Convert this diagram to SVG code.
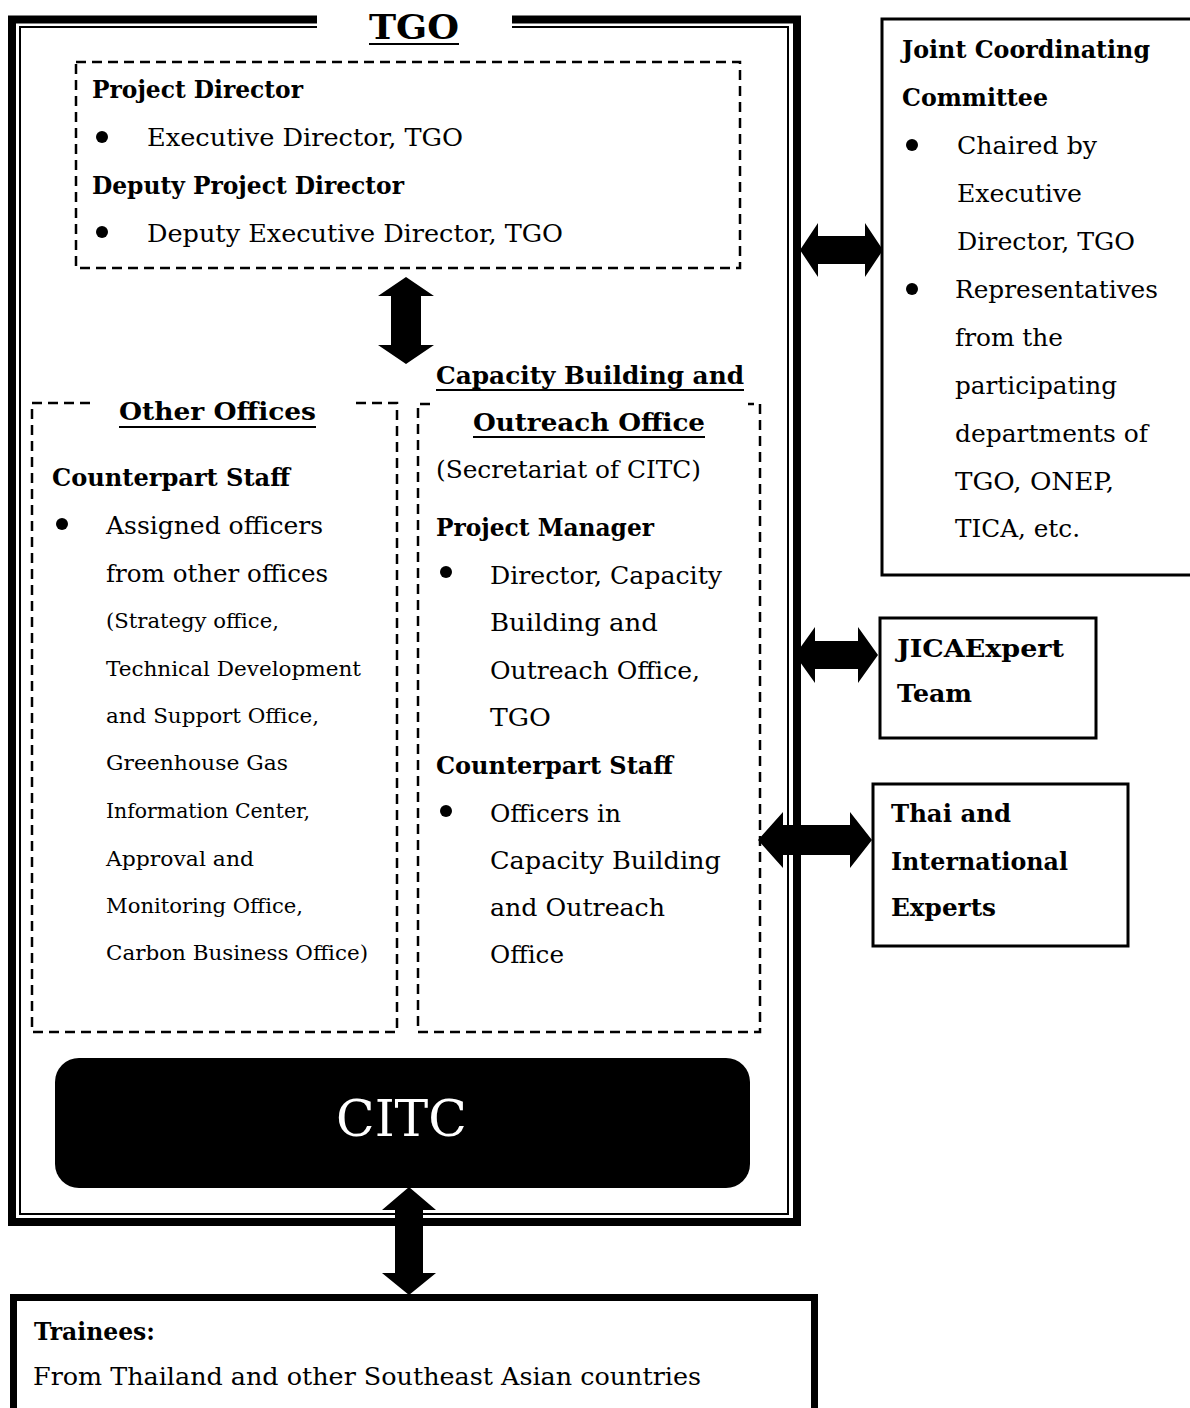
<svg xmlns="http://www.w3.org/2000/svg" width="1190" height="1408" viewBox="0 0 1190 1408">
<style>
text{font-family:"DejaVu Serif","Liberation Serif",serif;fill:#000}
.t{font-size:24px}
.b{font-size:24px;font-weight:bold}
.s{font-size:21px}
.h{font-size:34px;font-weight:bold}
.dash{fill:none;stroke:#000;stroke-width:2.5;stroke-dasharray:10 6}
.box{fill:#fff;stroke:#000;stroke-width:3}
.ul{stroke:#000;stroke-width:2}
.arrow{fill:#000}
</style>
<rect width="1190" height="1408" fill="#fff"/>

<g id="tgo-frame">
  <rect x="12" y="19.5" width="785" height="1202.5" fill="none" stroke="#000" stroke-width="8"/>
  <rect x="20" y="27" width="768" height="1187" fill="none" stroke="#000" stroke-width="2"/>
  <rect x="317" y="8" width="195" height="24" fill="#fff"/>
  <text class="h" x="369" y="39" textLength="90" lengthAdjust="spacingAndGlyphs">TGO</text>
  <line class="ul" x1="369" y1="44" x2="459" y2="44" stroke-width="2.5"/>
</g>

<g id="project-director">
  <rect class="dash" x="76" y="62" width="664" height="206"/>
  <text class="b" x="92" y="98" textLength="211" lengthAdjust="spacingAndGlyphs">Project Director</text>
  <circle cx="102" cy="137" r="6"/>
  <text class="t" x="147" y="146" textLength="316" lengthAdjust="spacingAndGlyphs">Executive Director, TGO</text>
  <text class="b" x="92" y="194" textLength="312" lengthAdjust="spacingAndGlyphs">Deputy Project Director</text>
  <circle cx="102" cy="232" r="6"/>
  <text class="t" x="147" y="242" textLength="416" lengthAdjust="spacingAndGlyphs">Deputy Executive Director, TGO</text>
</g>

<g id="other-offices">
  <path class="dash" d="M90 403 L32 403 L32 1032 L397 1032 L397 403 L355 403"/>
  <text class="b" x="119" y="420" textLength="197" lengthAdjust="spacingAndGlyphs">Other Offices</text>
  <line class="ul" x1="119" y1="427" x2="316" y2="427"/>
  <text class="b" x="52" y="486" textLength="238" lengthAdjust="spacingAndGlyphs">Counterpart Staff</text>
  <circle cx="62" cy="524" r="6"/>
  <text class="t" x="106" y="534" textLength="217" lengthAdjust="spacingAndGlyphs">Assigned officers</text>
  <text class="t" x="106" y="582" textLength="222" lengthAdjust="spacingAndGlyphs">from other offices</text>
  <text class="s" x="106" y="628" textLength="173" lengthAdjust="spacingAndGlyphs">(Strategy office,</text>
  <text class="s" x="106" y="676" textLength="255" lengthAdjust="spacingAndGlyphs">Technical Development</text>
  <text class="s" x="106" y="723" textLength="213" lengthAdjust="spacingAndGlyphs">and Support Office,</text>
  <text class="s" x="106" y="770" textLength="182" lengthAdjust="spacingAndGlyphs">Greenhouse Gas</text>
  <text class="s" x="106" y="818" textLength="204" lengthAdjust="spacingAndGlyphs">Information Center,</text>
  <text class="s" x="106" y="866" textLength="148" lengthAdjust="spacingAndGlyphs">Approval and</text>
  <text class="s" x="106" y="913" textLength="197" lengthAdjust="spacingAndGlyphs">Monitoring Office,</text>
  <text class="s" x="106" y="960" textLength="262" lengthAdjust="spacingAndGlyphs">Carbon Business Office)</text>
</g>

<g id="capacity-office">
  <path class="dash" d="M430 404 L418 404 L418 1032 L760 1032 L760 404 L748 404"/>
  <text class="b" x="436" y="384" textLength="308" lengthAdjust="spacingAndGlyphs">Capacity Building and</text>
  <line class="ul" x1="436" y1="390" x2="744" y2="390"/>
  <text class="b" x="473" y="431" textLength="232" lengthAdjust="spacingAndGlyphs">Outreach Office</text>
  <line class="ul" x1="473" y1="437" x2="705" y2="437"/>
  <text class="t" x="436" y="478" textLength="265" lengthAdjust="spacingAndGlyphs">(Secretariat of CITC)</text>
  <text class="b" x="436" y="536" textLength="218" lengthAdjust="spacingAndGlyphs">Project Manager</text>
  <circle cx="446" cy="572" r="6"/>
  <text class="t" x="490" y="584" textLength="232" lengthAdjust="spacingAndGlyphs">Director, Capacity</text>
  <text class="t" x="490" y="631" textLength="168" lengthAdjust="spacingAndGlyphs">Building and</text>
  <text class="t" x="490" y="679" textLength="210" lengthAdjust="spacingAndGlyphs">Outreach Office,</text>
  <text class="t" x="490" y="726" textLength="61" lengthAdjust="spacingAndGlyphs">TGO</text>
  <text class="b" x="436" y="774" textLength="237" lengthAdjust="spacingAndGlyphs">Counterpart Staff</text>
  <circle cx="446" cy="811" r="6"/>
  <text class="t" x="490" y="822" textLength="131" lengthAdjust="spacingAndGlyphs">Officers in</text>
  <text class="t" x="490" y="869" textLength="231" lengthAdjust="spacingAndGlyphs">Capacity Building</text>
  <text class="t" x="490" y="916" textLength="175" lengthAdjust="spacingAndGlyphs">and Outreach</text>
  <text class="t" x="490" y="963" textLength="74" lengthAdjust="spacingAndGlyphs">Office</text>
</g>

<g id="citc">
  <rect x="55" y="1058" width="695" height="130" rx="24" fill="#000"/>
  <text x="336" y="1136" style="font-size:50px;fill:#fff" textLength="131" lengthAdjust="spacingAndGlyphs">CITC</text>
</g>

<g id="jcc">
  <rect class="box" x="882" y="19" width="320" height="556"/>
  <text class="b" x="902" y="58" textLength="248" lengthAdjust="spacingAndGlyphs">Joint Coordinating</text>
  <text class="b" x="902" y="106" textLength="146" lengthAdjust="spacingAndGlyphs">Committee</text>
  <circle cx="912" cy="145" r="6"/>
  <text class="t" x="957" y="154" textLength="140" lengthAdjust="spacingAndGlyphs">Chaired by</text>
  <text class="t" x="957" y="202" textLength="125" lengthAdjust="spacingAndGlyphs">Executive</text>
  <text class="t" x="957" y="250" textLength="178" lengthAdjust="spacingAndGlyphs">Director, TGO</text>
  <circle cx="912" cy="289" r="6"/>
  <text class="t" x="955" y="298" textLength="203" lengthAdjust="spacingAndGlyphs">Representatives</text>
  <text class="t" x="955" y="346" textLength="108" lengthAdjust="spacingAndGlyphs">from the</text>
  <text class="t" x="955" y="394" textLength="162" lengthAdjust="spacingAndGlyphs">participating</text>
  <text class="t" x="955" y="442" textLength="193" lengthAdjust="spacingAndGlyphs">departments of</text>
  <text class="t" x="955" y="490" textLength="159" lengthAdjust="spacingAndGlyphs">TGO, ONEP,</text>
  <text class="t" x="955" y="537" textLength="125" lengthAdjust="spacingAndGlyphs">TICA, etc.</text>
</g>

<g id="jica">
  <rect class="box" x="880" y="618" width="216" height="120"/>
  <text class="b" x="897" y="657" textLength="167" lengthAdjust="spacingAndGlyphs">JICAExpert</text>
  <text class="b" x="897" y="702" textLength="75" lengthAdjust="spacingAndGlyphs">Team</text>
</g>

<g id="experts">
  <rect class="box" x="873" y="784" width="255" height="162"/>
  <text class="b" x="891" y="822" textLength="120" lengthAdjust="spacingAndGlyphs">Thai and</text>
  <text class="b" x="891" y="870" textLength="177" lengthAdjust="spacingAndGlyphs">International</text>
  <text class="b" x="891" y="916" textLength="105" lengthAdjust="spacingAndGlyphs">Experts</text>
</g>

<g id="trainees">
  <rect x="13.5" y="1297.5" width="801" height="130" fill="#fff" stroke="#000" stroke-width="7"/>
  <text class="b" x="34" y="1340" textLength="121" lengthAdjust="spacingAndGlyphs">Trainees:</text>
  <text class="t" x="33" y="1385" textLength="668" lengthAdjust="spacingAndGlyphs">From Thailand and other Southeast Asian countries</text>
</g>

<g id="connectors">
  <polygon class="arrow" points="406,277 434,296 421,296 421,345 434,345 406,364 378,345 391,345 391,296 378,296"/>
  <polygon class="arrow" points="800,250 818,223 818,236 865,236 865,223 883,250 865,277 865,264 818,264 818,277"/>
  <polygon class="arrow" points="795,655 815,627 815,641 858,641 858,627 878,655 858,683 858,669 815,669 815,683"/>
  <polygon class="arrow" points="758,840 783,812 783,825 850,825 850,812 872,840 850,868 850,855 783,855 783,868"/>
  <polygon class="arrow" points="409,1187 436,1210 423,1210 423,1273 436,1273 409,1295 382,1273 395,1273 395,1210 382,1210"/>
</g>
</svg>
